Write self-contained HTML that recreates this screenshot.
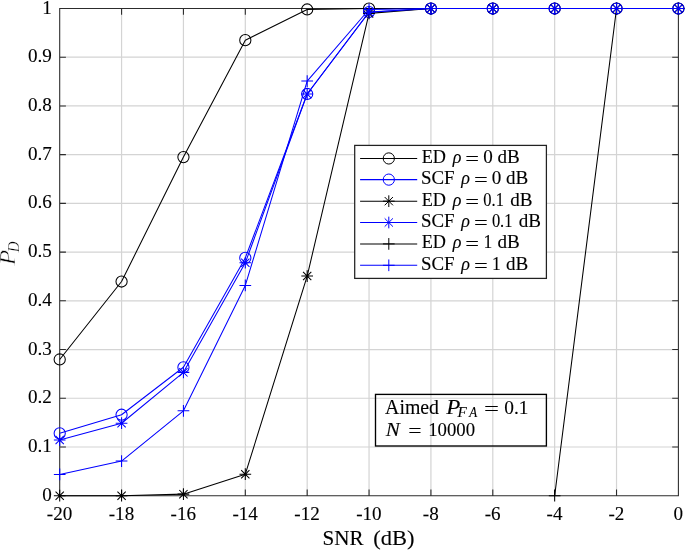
<!DOCTYPE html>
<html><head><meta charset="utf-8"><title>PD vs SNR</title>
<style>html,body{margin:0;padding:0;background:#fff}svg{display:block}text{font-family:"Liberation Serif",serif;fill:#000;stroke:#000;stroke-width:0.12px}.i{font-style:italic}</style></head><body>
<svg width="685" height="551" viewBox="0 0 685 551">
<rect width="685" height="551" fill="#fff"/>
<path d="M121.57 8.5V495.7M183.44 8.5V495.7M245.31 8.5V495.7M307.18 8.5V495.7M369.05 8.5V495.7M430.92 8.5V495.7M492.79 8.5V495.7M554.66 8.5V495.7M616.53 8.5V495.7M59.7 446.98H678.4M59.7 398.26H678.4M59.7 349.54H678.4M59.7 300.82H678.4M59.7 252.10H678.4M59.7 203.38H678.4M59.7 154.66H678.4M59.7 105.94H678.4M59.7 57.22H678.4" stroke="#d4d4d4" stroke-width="1.2" fill="none"/>
<path d="M59.7 8.5H678.4V495.7H59.7ZM121.57 495.7v-6.2M121.57 8.5v6.2M183.44 495.7v-6.2M183.44 8.5v6.2M245.31 495.7v-6.2M245.31 8.5v6.2M307.18 495.7v-6.2M307.18 8.5v6.2M369.05 495.7v-6.2M369.05 8.5v6.2M430.92 495.7v-6.2M430.92 8.5v6.2M492.79 495.7v-6.2M492.79 8.5v6.2M554.66 495.7v-6.2M554.66 8.5v6.2M616.53 495.7v-6.2M616.53 8.5v6.2M59.7 446.98h6.2M678.4 446.98h-6.2M59.7 398.26h6.2M678.4 398.26h-6.2M59.7 349.54h6.2M678.4 349.54h-6.2M59.7 300.82h6.2M678.4 300.82h-6.2M59.7 252.10h6.2M678.4 252.10h-6.2M59.7 203.38h6.2M678.4 203.38h-6.2M59.7 154.66h6.2M678.4 154.66h-6.2M59.7 105.94h6.2M678.4 105.94h-6.2M59.7 57.22h6.2M678.4 57.22h-6.2" stroke="#2c2c2c" stroke-width="1.08" fill="none"/>
<text x="59.60" y="519.8" font-size="19.1" text-anchor="middle">-20</text>
<text x="121.47" y="519.8" font-size="19.1" text-anchor="middle">-18</text>
<text x="183.34" y="519.8" font-size="19.1" text-anchor="middle">-16</text>
<text x="245.21" y="519.8" font-size="19.1" text-anchor="middle">-14</text>
<text x="307.08" y="519.8" font-size="19.1" text-anchor="middle">-12</text>
<text x="368.95" y="519.8" font-size="19.1" text-anchor="middle">-10</text>
<text x="430.82" y="519.8" font-size="19.1" text-anchor="middle">-8</text>
<text x="492.69" y="519.8" font-size="19.1" text-anchor="middle">-6</text>
<text x="554.56" y="519.8" font-size="19.1" text-anchor="middle">-4</text>
<text x="616.43" y="519.8" font-size="19.1" text-anchor="middle">-2</text>
<text x="678.30" y="519.8" font-size="19.1" text-anchor="middle">0</text>
<text x="51.9" y="500.80" font-size="19.1" text-anchor="end">0</text>
<text x="51.9" y="452.08" font-size="19.1" text-anchor="end">0.1</text>
<text x="51.9" y="403.36" font-size="19.1" text-anchor="end">0.2</text>
<text x="51.9" y="354.64" font-size="19.1" text-anchor="end">0.3</text>
<text x="51.9" y="305.92" font-size="19.1" text-anchor="end">0.4</text>
<text x="51.9" y="257.20" font-size="19.1" text-anchor="end">0.5</text>
<text x="51.9" y="208.48" font-size="19.1" text-anchor="end">0.6</text>
<text x="51.9" y="159.76" font-size="19.1" text-anchor="end">0.7</text>
<text x="51.9" y="111.04" font-size="19.1" text-anchor="end">0.8</text>
<text x="51.9" y="62.32" font-size="19.1" text-anchor="end">0.9</text>
<text x="51.9" y="13.60" font-size="19.1" text-anchor="end">1</text>
<text x="322.57" y="545.10" font-size="21.8" textLength="41.09" lengthAdjust="spacingAndGlyphs" fill="#000">SNR</text>
<text x="373.34" y="545.10" font-size="21.8" textLength="41.22" lengthAdjust="spacingAndGlyphs" fill="#000">(dB)</text>
<g transform="rotate(-90)">
<text class="i" x="-265.17" y="15.10" font-size="23.2" textLength="15.53" lengthAdjust="spacingAndGlyphs" fill="#000" style="stroke:#fff;stroke-width:.5px">P</text>
<text class="i" x="-252.21" y="18.80" font-size="16.0" textLength="10.83" lengthAdjust="spacingAndGlyphs" fill="#000" style="stroke:#fff;stroke-width:.3px">D</text>
</g>
<polyline points="59.70,359.46 121.57,281.52 183.44,157.07 245.31,40.16 307.18,9.47 369.05,8.50 430.92,8.50 492.79,8.50 554.66,8.50 616.53,8.50 678.40,8.50" fill="none" stroke="#000" stroke-width="1.05" stroke-linejoin="round"/>
<g stroke-width="1.05"><circle cx="59.70" cy="359.46" r="5.6" fill="none" stroke="#000"/><circle cx="121.57" cy="281.52" r="5.6" fill="none" stroke="#000"/><circle cx="183.44" cy="157.07" r="5.6" fill="none" stroke="#000"/><circle cx="245.31" cy="40.16" r="5.6" fill="none" stroke="#000"/><circle cx="307.18" cy="9.47" r="5.6" fill="none" stroke="#000"/><circle cx="369.05" cy="8.50" r="5.6" fill="none" stroke="#000"/><circle cx="430.92" cy="8.50" r="5.6" fill="none" stroke="#000"/><circle cx="492.79" cy="8.50" r="5.6" fill="none" stroke="#000"/><circle cx="554.66" cy="8.50" r="5.6" fill="none" stroke="#000"/><circle cx="616.53" cy="8.50" r="5.6" fill="none" stroke="#000"/><circle cx="678.40" cy="8.50" r="5.6" fill="none" stroke="#000"/></g>
<polyline points="59.70,433.30 121.57,414.74 183.44,367.25 245.31,257.90 307.18,93.99 369.05,12.01 430.92,8.50 492.79,8.50 554.66,8.50 616.53,8.50 678.40,8.50" fill="none" stroke="#00f" stroke-width="1.05" stroke-linejoin="round"/>
<g stroke-width="1.05"><circle cx="59.70" cy="433.30" r="5.6" fill="none" stroke="#00f"/><circle cx="121.57" cy="414.74" r="5.6" fill="none" stroke="#00f"/><circle cx="183.44" cy="367.25" r="5.6" fill="none" stroke="#00f"/><circle cx="245.31" cy="257.90" r="5.6" fill="none" stroke="#00f"/><circle cx="307.18" cy="93.99" r="5.6" fill="none" stroke="#00f"/><circle cx="369.05" cy="12.01" r="5.6" fill="none" stroke="#00f"/><circle cx="430.92" cy="8.50" r="5.6" fill="none" stroke="#00f"/><circle cx="492.79" cy="8.50" r="5.6" fill="none" stroke="#00f"/><circle cx="554.66" cy="8.50" r="5.6" fill="none" stroke="#00f"/><circle cx="616.53" cy="8.50" r="5.6" fill="none" stroke="#00f"/><circle cx="678.40" cy="8.50" r="5.6" fill="none" stroke="#00f"/></g>
<polyline points="59.70,495.70 121.57,495.70 183.44,494.14 245.31,474.17 307.18,276.06 369.05,13.37 430.92,8.50 492.79,8.50 554.66,8.50 616.53,8.50 678.40,8.50" fill="none" stroke="#000" stroke-width="1.05" stroke-linejoin="round"/>
<g stroke-width="1.05"><path d="M53.85 495.70H65.55M59.70 489.85V501.55M55.56 491.56L63.84 499.84M55.56 499.84L63.84 491.56" fill="none" stroke="#000"/><path d="M115.72 495.70H127.42M121.57 489.85V501.55M117.43 491.56L125.71 499.84M117.43 499.84L125.71 491.56" fill="none" stroke="#000"/><path d="M177.59 494.14H189.29M183.44 488.29V499.99M179.30 490.00L187.58 498.28M179.30 498.28L187.58 490.00" fill="none" stroke="#000"/><path d="M239.46 474.17H251.16M245.31 468.32V480.02M241.17 470.03L249.45 478.30M241.17 478.30L249.45 470.03" fill="none" stroke="#000"/><path d="M301.33 276.06H313.03M307.18 270.21V281.91M303.04 271.93L311.32 280.20M303.04 280.20L311.32 271.93" fill="none" stroke="#000"/><path d="M363.20 13.37H374.90M369.05 7.52V19.22M364.91 9.23L373.19 17.51M364.91 17.51L373.19 9.23" fill="none" stroke="#000"/><path d="M425.07 8.50H436.77M430.92 2.65V14.35M426.78 4.36L435.06 12.64M426.78 12.64L435.06 4.36" fill="none" stroke="#000"/><path d="M486.94 8.50H498.64M492.79 2.65V14.35M488.65 4.36L496.93 12.64M488.65 12.64L496.93 4.36" fill="none" stroke="#000"/><path d="M548.81 8.50H560.51M554.66 2.65V14.35M550.52 4.36L558.80 12.64M550.52 12.64L558.80 4.36" fill="none" stroke="#000"/><path d="M610.68 8.50H622.38M616.53 2.65V14.35M612.39 4.36L620.67 12.64M612.39 12.64L620.67 4.36" fill="none" stroke="#000"/><path d="M672.55 8.50H684.25M678.40 2.65V14.35M674.26 4.36L682.54 12.64M674.26 12.64L682.54 4.36" fill="none" stroke="#000"/></g>
<polyline points="59.70,440.07 121.57,423.22 183.44,372.36 245.31,262.77 307.18,93.99 369.05,12.30 430.92,8.50 492.79,8.50 554.66,8.50 616.53,8.50 678.40,8.50" fill="none" stroke="#00f" stroke-width="1.05" stroke-linejoin="round"/>
<g stroke-width="1.05"><path d="M53.85 440.07H65.55M59.70 434.22V445.92M55.56 435.93L63.84 444.21M55.56 444.21L63.84 435.93" fill="none" stroke="#00f"/><path d="M115.72 423.22H127.42M121.57 417.37V429.07M117.43 419.08L125.71 427.35M117.43 427.35L125.71 419.08" fill="none" stroke="#00f"/><path d="M177.59 372.36H189.29M183.44 366.51V378.21M179.30 368.23L187.58 376.50M179.30 376.50L187.58 368.23" fill="none" stroke="#00f"/><path d="M239.46 262.77H251.16M245.31 256.92V268.62M241.17 258.63L249.45 266.90M241.17 266.90L249.45 258.63" fill="none" stroke="#00f"/><path d="M301.33 93.99H313.03M307.18 88.14V99.84M303.04 89.85L311.32 98.12M303.04 98.12L311.32 89.85" fill="none" stroke="#00f"/><path d="M363.20 12.30H374.90M369.05 6.45V18.15M364.91 8.16L373.19 16.44M364.91 16.44L373.19 8.16" fill="none" stroke="#00f"/><path d="M425.07 8.50H436.77M430.92 2.65V14.35M426.78 4.36L435.06 12.64M426.78 12.64L435.06 4.36" fill="none" stroke="#00f"/><path d="M486.94 8.50H498.64M492.79 2.65V14.35M488.65 4.36L496.93 12.64M488.65 12.64L496.93 4.36" fill="none" stroke="#00f"/><path d="M548.81 8.50H560.51M554.66 2.65V14.35M550.52 4.36L558.80 12.64M550.52 12.64L558.80 4.36" fill="none" stroke="#00f"/><path d="M610.68 8.50H622.38M616.53 2.65V14.35M612.39 4.36L620.67 12.64M612.39 12.64L620.67 4.36" fill="none" stroke="#00f"/><path d="M672.55 8.50H684.25M678.40 2.65V14.35M674.26 4.36L682.54 12.64M674.26 12.64L682.54 4.36" fill="none" stroke="#00f"/></g>
<polyline points="554.66,495.70 616.53,8.50 678.40,8.50" fill="none" stroke="#000" stroke-width="1.05" stroke-linejoin="round"/>
<g stroke-width="1.05"><path d="M548.81 495.70H560.51M554.66 489.85V501.55" fill="none" stroke="#000"/><path d="M610.68 8.50H622.38M616.53 2.65V14.35" fill="none" stroke="#000"/><path d="M672.55 8.50H684.25M678.40 2.65V14.35" fill="none" stroke="#000"/></g>
<polyline points="59.70,474.41 121.57,461.06 183.44,410.84 245.31,285.42 307.18,81.08 369.05,9.47 430.92,8.50 492.79,8.50 554.66,8.50 616.53,8.50 678.40,8.50" fill="none" stroke="#00f" stroke-width="1.05" stroke-linejoin="round"/>
<g stroke-width="1.05"><path d="M53.85 474.41H65.55M59.70 468.56V480.26" fill="none" stroke="#00f"/><path d="M115.72 461.06H127.42M121.57 455.21V466.91" fill="none" stroke="#00f"/><path d="M177.59 410.84H189.29M183.44 404.99V416.69" fill="none" stroke="#00f"/><path d="M239.46 285.42H251.16M245.31 279.57V291.27" fill="none" stroke="#00f"/><path d="M301.33 81.08H313.03M307.18 75.23V86.93" fill="none" stroke="#00f"/><path d="M363.20 9.47H374.90M369.05 3.62V15.32" fill="none" stroke="#00f"/><path d="M425.07 8.50H436.77M430.92 2.65V14.35" fill="none" stroke="#00f"/><path d="M486.94 8.50H498.64M492.79 2.65V14.35" fill="none" stroke="#00f"/><path d="M548.81 8.50H560.51M554.66 2.65V14.35" fill="none" stroke="#00f"/><path d="M610.68 8.50H622.38M616.53 2.65V14.35" fill="none" stroke="#00f"/><path d="M672.55 8.50H684.25M678.40 2.65V14.35" fill="none" stroke="#00f"/></g>
<rect x="354.7" y="145.4" width="191.7" height="133.0" fill="#fff" stroke="#222" stroke-width="1.25"/>
<path d="M360.1 158.45H417.2" stroke="#000" stroke-width="1.05" fill="none"/>
<circle cx="388.80" cy="158.45" r="5.6" fill="none" stroke="#000"/>
<text x="421.70" y="162.90" font-size="18.6" textLength="24.24" lengthAdjust="spacingAndGlyphs" fill="#000">ED</text>
<text class="i" x="452.65" y="162.90" font-size="18.6" textLength="8.69" lengthAdjust="spacingAndGlyphs" fill="#000">ρ</text>
<text x="465.37" y="164.90" font-size="18.6" textLength="13.83" lengthAdjust="spacingAndGlyphs" fill="#000">=</text>
<text x="483.19" y="162.90" font-size="17.8" textLength="9.53" lengthAdjust="spacingAndGlyphs" fill="#000">0</text>
<text x="497.43" y="162.90" font-size="18.6" textLength="22.26" lengthAdjust="spacingAndGlyphs" fill="#000">dB</text>
<path d="M360.1 179.62H417.2" stroke="#00f" stroke-width="1.05" fill="none"/>
<circle cx="388.80" cy="179.62" r="5.6" fill="none" stroke="#00f"/>
<text x="420.93" y="184.07" font-size="18.6" textLength="33.57" lengthAdjust="spacingAndGlyphs" fill="#000">SCF</text>
<text class="i" x="461.25" y="184.07" font-size="18.6" textLength="8.69" lengthAdjust="spacingAndGlyphs" fill="#000">ρ</text>
<text x="473.97" y="186.07" font-size="18.6" textLength="13.83" lengthAdjust="spacingAndGlyphs" fill="#000">=</text>
<text x="491.79" y="184.07" font-size="17.8" textLength="9.53" lengthAdjust="spacingAndGlyphs" fill="#000">0</text>
<text x="506.03" y="184.07" font-size="18.6" textLength="22.26" lengthAdjust="spacingAndGlyphs" fill="#000">dB</text>
<path d="M360.1 201.17H417.2" stroke="#000" stroke-width="1.05" fill="none"/>
<path d="M382.95 201.17H394.65M388.80 195.32V207.02M384.66 197.03L392.94 205.31M384.66 205.31L392.94 197.03" fill="none" stroke="#000"/>
<text x="421.70" y="205.62" font-size="18.6" textLength="24.24" lengthAdjust="spacingAndGlyphs" fill="#000">ED</text>
<text class="i" x="452.65" y="205.62" font-size="18.6" textLength="8.69" lengthAdjust="spacingAndGlyphs" fill="#000">ρ</text>
<text x="465.37" y="207.62" font-size="18.6" textLength="13.83" lengthAdjust="spacingAndGlyphs" fill="#000">=</text>
<text x="483.28" y="205.62" font-size="17.8" textLength="20.61" lengthAdjust="spacingAndGlyphs" fill="#000">0.1</text>
<text x="510.23" y="205.62" font-size="18.6" textLength="22.26" lengthAdjust="spacingAndGlyphs" fill="#000">dB</text>
<path d="M360.1 222.50H417.2" stroke="#00f" stroke-width="1.05" fill="none"/>
<path d="M382.95 222.50H394.65M388.80 216.65V228.35M384.66 218.36L392.94 226.64M384.66 226.64L392.94 218.36" fill="none" stroke="#00f"/>
<text x="420.93" y="226.95" font-size="18.6" textLength="33.57" lengthAdjust="spacingAndGlyphs" fill="#000">SCF</text>
<text class="i" x="461.25" y="226.95" font-size="18.6" textLength="8.69" lengthAdjust="spacingAndGlyphs" fill="#000">ρ</text>
<text x="473.97" y="228.95" font-size="18.6" textLength="13.83" lengthAdjust="spacingAndGlyphs" fill="#000">=</text>
<text x="491.88" y="226.95" font-size="17.8" textLength="20.61" lengthAdjust="spacingAndGlyphs" fill="#000">0.1</text>
<text x="518.83" y="226.95" font-size="18.6" textLength="22.26" lengthAdjust="spacingAndGlyphs" fill="#000">dB</text>
<path d="M360.1 243.90H417.2" stroke="#000" stroke-width="1.05" fill="none"/>
<path d="M382.95 243.90H394.65M388.80 238.05V249.75" fill="none" stroke="#000"/>
<text x="421.70" y="248.35" font-size="18.6" textLength="24.24" lengthAdjust="spacingAndGlyphs" fill="#000">ED</text>
<text class="i" x="452.65" y="248.35" font-size="18.6" textLength="8.69" lengthAdjust="spacingAndGlyphs" fill="#000">ρ</text>
<text x="465.37" y="250.35" font-size="18.6" textLength="13.83" lengthAdjust="spacingAndGlyphs" fill="#000">=</text>
<text x="483.46" y="248.35" font-size="17.8" textLength="8.79" lengthAdjust="spacingAndGlyphs" fill="#000">1</text>
<text x="497.43" y="248.35" font-size="18.6" textLength="22.26" lengthAdjust="spacingAndGlyphs" fill="#000">dB</text>
<path d="M360.1 265.30H417.2" stroke="#00f" stroke-width="1.05" fill="none"/>
<path d="M382.95 265.30H394.65M388.80 259.45V271.15" fill="none" stroke="#00f"/>
<text x="420.93" y="269.75" font-size="18.6" textLength="33.57" lengthAdjust="spacingAndGlyphs" fill="#000">SCF</text>
<text class="i" x="461.25" y="269.75" font-size="18.6" textLength="8.69" lengthAdjust="spacingAndGlyphs" fill="#000">ρ</text>
<text x="473.97" y="271.75" font-size="18.6" textLength="13.83" lengthAdjust="spacingAndGlyphs" fill="#000">=</text>
<text x="492.06" y="269.75" font-size="17.8" textLength="8.79" lengthAdjust="spacingAndGlyphs" fill="#000">1</text>
<text x="506.03" y="269.75" font-size="18.6" textLength="22.26" lengthAdjust="spacingAndGlyphs" fill="#000">dB</text>
<rect x="375.5" y="394.4" width="170.9" height="51.6" fill="none" stroke="#000" stroke-width="1.35"/>
<text x="385.10" y="413.60" font-size="21.4" textLength="53.93" lengthAdjust="spacingAndGlyphs" fill="#000">Aimed</text>
<text class="i" x="446.22" y="413.60" font-size="21.0" textLength="14.08" lengthAdjust="spacingAndGlyphs" fill="#000">P</text>
<text class="i" x="457.58" y="416.60" font-size="15.3" textLength="9.29" lengthAdjust="spacingAndGlyphs" fill="#000">F</text>
<text class="i" x="469.21" y="416.60" font-size="15.3" textLength="7.93" lengthAdjust="spacingAndGlyphs" fill="#000">A</text>
<text x="484.07" y="414.70" font-size="19.6" textLength="15.04" lengthAdjust="spacingAndGlyphs" fill="#000">=</text>
<text x="504.27" y="413.60" font-size="19.6" textLength="24.19" lengthAdjust="spacingAndGlyphs" fill="#000">0.1</text>
<text class="i" x="385.66" y="436.30" font-size="19.6" textLength="14.12" lengthAdjust="spacingAndGlyphs" fill="#000">N</text>
<text x="408.22" y="437.40" font-size="19.6" textLength="13.34" lengthAdjust="spacingAndGlyphs" fill="#000">=</text>
<text x="428.16" y="436.30" font-size="19.6" textLength="46.84" lengthAdjust="spacingAndGlyphs" fill="#000">10000</text>
</svg></body></html>
